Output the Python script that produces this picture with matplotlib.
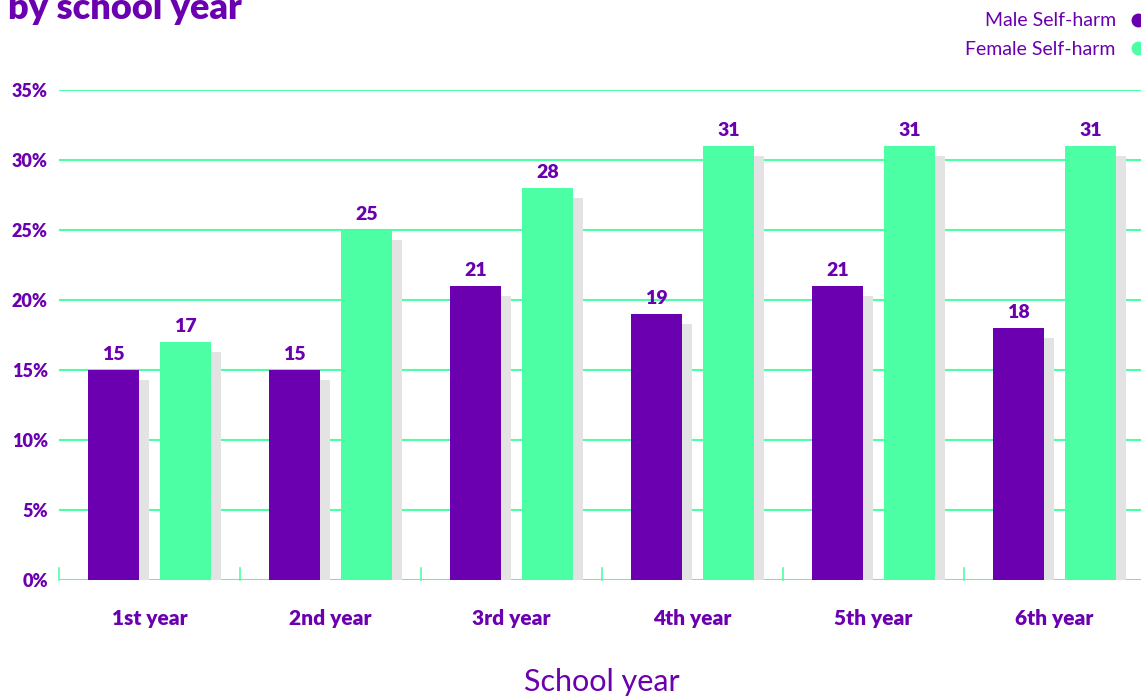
"""Self-harm by school year: grouped bar chart with drop shadows."""
import matplotlib
matplotlib.use("Agg")
import matplotlib.pyplot as plt
from matplotlib.lines import Line2D
import numpy as np

PURPLE = "#6A00AF"
GREEN = "#4CFFA5"
SHADOW = "#E3E3E3"

years = ["1st year", "2nd year", "3rd year", "4th year", "5th year", "6th year"]
male = [15, 15, 21, 19, 21, 18]
female = [17, 25, 28, 31, 31, 31]
y_ticks = [0, 5, 10, 15, 20, 25, 30, 35]

plt.rcParams["font.family"] = ["Lato", "DejaVu Sans"]

fig = plt.figure(figsize=(11.41, 6.96), dpi=100)
ax = fig.add_axes([59 / 1141, 116 / 696, 1086 / 1141, 490 / 696])

x = np.arange(len(years))
width = 0.28
offset = 0.2
sh_dx, sh_dy = 0.055, 0.7

for vals, sign, color in [(male, -1, PURPLE), (female, 1, GREEN)]:
    vals = np.array(vals, dtype=float)
    pos = x + sign * offset
    ax.bar(pos + sh_dx, vals - sh_dy, width, color=SHADOW, zorder=2)
    bars = ax.bar(pos, vals, width, color=color, zorder=3)
    for rect, v in zip(bars, vals):
        ax.annotate(f"{v:.0f}", (rect.get_x() + rect.get_width() / 2, v),
                    xytext=(0, 5), textcoords="offset points",
                    ha="center", va="bottom", fontsize=14, fontweight="heavy",
                    color=PURPLE)

ax.set_xlim(-0.5, len(years) - 0.5)
ax.set_ylim(0, 35)
for yv in y_ticks:
    ax.axhline(yv, color=GREEN, lw=1.5, zorder=1)
# small separators between categories on the baseline
for b in np.arange(-0.5, len(years), 1.0):
    ax.plot([b, b], [0, 0.85], color=GREEN, lw=1.2, zorder=1, clip_on=False)

ax.set_yticks(y_ticks)
ax.set_yticklabels([f"{v}%" for v in y_ticks], fontsize=13, fontweight="heavy",
                   color=PURPLE)
ax.set_xticks(x)
ax.set_xticklabels(years, fontsize=15, fontweight="heavy", color=PURPLE)
ax.tick_params(axis="both", length=0)
ax.tick_params(axis="x", pad=21)
ax.tick_params(axis="y", pad=8)
for s in ax.spines.values():
    s.set_visible(False)

ax.set_xlabel("School year", fontsize=22, color=PURPLE, labelpad=29)

fig.text(8 / 1141, 1 - 19 / 696, "by school year", fontsize=26, fontweight="heavy",
         color=PURPLE, ha="left", va="baseline")

handles = [Line2D([], [], marker="o", ls="none", color=PURPLE, markersize=9),
           Line2D([], [], marker="o", ls="none", color=GREEN, markersize=9)]
fig.legend(handles, ["Male Self-harm", "Female Self-harm"], markerfirst=False,
           loc="upper right", bbox_to_anchor=(1 + 34 / 1141, 1 + 5 / 696),
           frameon=False, fontsize=14, labelcolor=PURPLE, handletextpad=0.15,
           labelspacing=0.6)

fig.savefig("out.png", dpi=100)
